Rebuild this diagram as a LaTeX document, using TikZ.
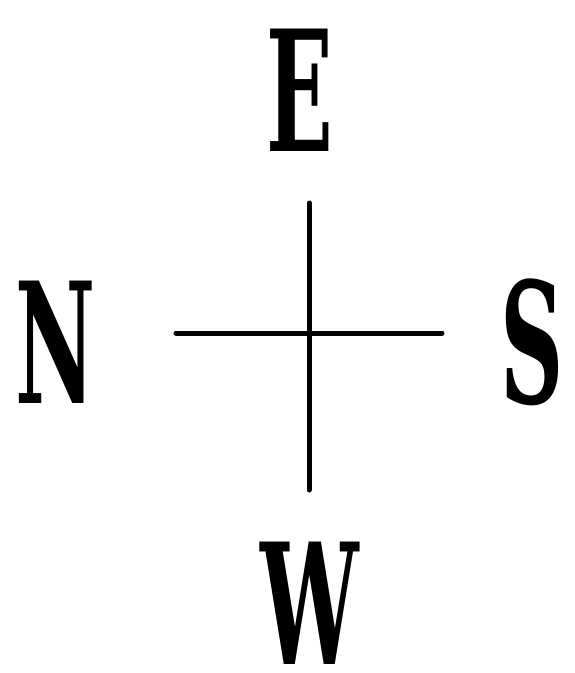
\documentclass[tikz,border=0pt]{standalone}
\usepackage{fontspec}
\newfontfamily\heavy{DejaVu Serif Condensed Bold}
\tikzset{
  letter/.style={inner sep=0pt, font=\heavy\fontsize{168}{168}\selectfont},
  bar/.style={line width=5pt, line cap=round}
}
\newcommand{\squeezed}[1]{\scalebox{0.58}[1]{#1}}
\begin{document}
\begin{tikzpicture}[x=1pt,y=-1pt]
\useasboundingbox (0,0) rectangle (574,673);
\node[letter] (e) at (300,90) {\squeezed{E}};
\node[letter] (n) at (56,342) {\squeezed{N}};
\node[letter] (s) at (532,342) {\squeezed{S}};
\node[letter] (w) at (310,603) {\squeezed{W}};
\coordinate (l) at (176,333);
\coordinate (r) at (442,333);
\coordinate (t) at (309,203);
\coordinate (b) at (309,490);
\draw[bar] (l) -- (r);
\draw[bar] (t) -- (b);
\end{tikzpicture}
\end{document}
